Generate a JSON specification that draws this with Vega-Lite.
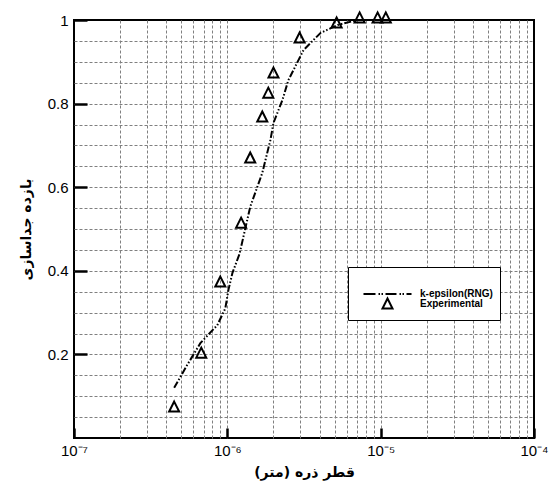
{
  "$schema": "https://vega.github.io/schema/vega-lite/v6.json",
  "width": 460,
  "height": 418,
  "autosize": {"type": "none"},
  "padding": {"left": 74, "top": 20, "right": 19, "bottom": 51},
  "background": "white",
  "config": {
    "view": {"stroke": "black", "strokeWidth": 2},
    "axis": {"labelFont": "Liberation Sans", "titleFont": "DejaVu Sans", "labelColor": "black", "titleColor": "black", "domainColor": "black", "tickColor": "black"}
  },
  "datasets": {
    "model": [
      {"d": 4.5e-7, "eff": 0.12},
      {"d": 5.48e-7, "eff": 0.175},
      {"d": 6.67e-7, "eff": 0.227},
      {"d": 8.6e-7, "eff": 0.27},
      {"d": 9.7e-7, "eff": 0.31},
      {"d": 1.016e-6, "eff": 0.354},
      {"d": 1.08e-6, "eff": 0.395},
      {"d": 1.2e-6, "eff": 0.44},
      {"d": 1.41e-6, "eff": 0.553},
      {"d": 1.69e-6, "eff": 0.634},
      {"d": 1.91e-6, "eff": 0.713},
      {"d": 2.0e-6, "eff": 0.754},
      {"d": 2.29e-6, "eff": 0.809},
      {"d": 2.5e-6, "eff": 0.856},
      {"d": 2.91e-6, "eff": 0.904},
      {"d": 3.14e-6, "eff": 0.928},
      {"d": 4.05e-6, "eff": 0.969},
      {"d": 5.24e-6, "eff": 0.988},
      {"d": 7.07e-6, "eff": 1.0},
      {"d": 1.0e-5, "eff": 1.0}
    ],
    "exp": [
      {"d": 4.5e-7, "eff": 0.074, "series": "Experimental"},
      {"d": 6.76e-7, "eff": 0.203, "series": "Experimental"},
      {"d": 9.0e-7, "eff": 0.373, "series": "Experimental"},
      {"d": 1.23e-6, "eff": 0.514, "series": "Experimental"},
      {"d": 1.41e-6, "eff": 0.67, "series": "Experimental"},
      {"d": 1.69e-6, "eff": 0.768, "series": "Experimental"},
      {"d": 1.85e-6, "eff": 0.825, "series": "Experimental"},
      {"d": 2.0e-6, "eff": 0.873, "series": "Experimental"},
      {"d": 2.96e-6, "eff": 0.957, "series": "Experimental"},
      {"d": 5.16e-6, "eff": 0.993, "series": "Experimental"},
      {"d": 7.29e-6, "eff": 1.005, "series": "Experimental"},
      {"d": 9.55e-6, "eff": 1.005, "series": "Experimental"},
      {"d": 1.08e-5, "eff": 1.005, "series": "Experimental"}
    ]
  },
  "layer": [
    {
      "data": {"name": "model"},
      "mark": {"type": "line", "color": "black", "strokeWidth": 2, "strokeDash": [7, 2, 1.5, 2, 1.5, 2]},
      "encoding": {
        "x": {
          "field": "d", "type": "quantitative",
          "scale": {"type": "log", "domain": [1e-7, 1e-4], "nice": false},
          "axis": {
            "orient": "bottom", "title": null, "labels": false, "ticks": false, "domain": false,
            "grid": true, "gridColor": "#808080", "gridDash": [3, 2], "gridWidth": 1,
            "values": [2e-7, 3e-7, 4e-7, 5e-7, 6e-7, 7e-7, 8e-7, 9e-7, 1e-6, 2e-6, 3e-6, 4e-6, 5e-6, 6e-6, 7e-6, 8e-6, 9e-6, 1e-5, 2e-5, 3e-5, 4e-5, 5e-5, 6e-5, 7e-5, 8e-5, 9e-5]
          }
        },
        "y": {
          "field": "eff", "type": "quantitative",
          "scale": {"domain": [0, 1], "nice": false, "zero": false},
          "axis": {
            "orient": "left", "title": null, "labels": false, "ticks": false, "domain": false,
            "grid": true, "gridColor": "#808080", "gridDash": [3, 2], "gridWidth": 1,
            "values": [0.05, 0.1, 0.15, 0.2, 0.25, 0.3, 0.35, 0.4, 0.45, 0.5, 0.55, 0.6, 0.65, 0.7, 0.75, 0.8, 0.85, 0.9, 0.95]
          }
        }
      }
    },
    {
      "data": {"name": "exp"},
      "mark": {"type": "point", "filled": false, "color": "black", "strokeWidth": 2, "size": 49, "opacity": 1},
      "encoding": {
        "x": {
          "field": "d", "type": "quantitative",
          "axis": {
            "orient": "bottom", "grid": false, "domain": false,
            "values": [1e-7, 1e-6, 1e-5, 1e-4],
            "labelExpr": "datum.value < 5e-7 ? '10⁻⁷' : datum.value < 5e-6 ? '10⁻⁶' : datum.value < 5e-5 ? '10⁻⁵' : '10⁻⁴'",
            "labelFlush": false, "labelFontSize": 15, "labelPadding": 15,
            "tickSize": -10, "tickWidth": 2.5,
            "title": "قطر ذره (متر)", "titleFontSize": 14, "titleFontWeight": "bold", "titlePadding": 7
          }
        },
        "y": {
          "field": "eff", "type": "quantitative",
          "axis": {
            "orient": "left", "grid": false, "domain": false,
            "values": [0.2, 0.4, 0.6, 0.8, 1],
            "format": "~g",
            "labelFontSize": 15, "labelPadding": 19,
            "tickSize": -13, "tickWidth": 2.5,
            "title": "بازده جداسازی", "titleFontSize": 14, "titleFontWeight": "bold", "titlePadding": 14
          }
        },
        "shape": {
          "field": "series", "type": "nominal",
          "scale": {
            "domain": ["k-epsilon(RNG)", "Experimental"],
            "range": ["M-6.86,0L-3.43,0M-2.57,0L-2.14,0M-1.71,0L-1.29,0M-0.57,0L2.57,0M3.43,0L3.86,0M4.29,0L4.71,0M5.43,0L6.86,0", "M0,-1.57L1.43,1.29L-1.43,1.29Z"]
          },
          "legend": {
            "orient": "none", "legendX": 274, "legendY": 247,
            "title": " ", "titleFontSize": 12, "titlePadding": 3,
            "padding": 7, "strokeColor": "black", "fillColor": "white",
            "labelFont": "Liberation Sans", "labelFontSize": 10, "labelFontWeight": "bold", "labelColor": "black",
            "symbolSize": 49, "symbolStrokeColor": "black", "symbolStrokeWidth": 2, "symbolFillColor": "transparent",
            "symbolOffset": 27.5, "labelOffset": 27.5, "rowPadding": -5
          }
        }
      }
    }
  ],
  "resolve": {"axis": {"x": "independent", "y": "independent"}}
}
